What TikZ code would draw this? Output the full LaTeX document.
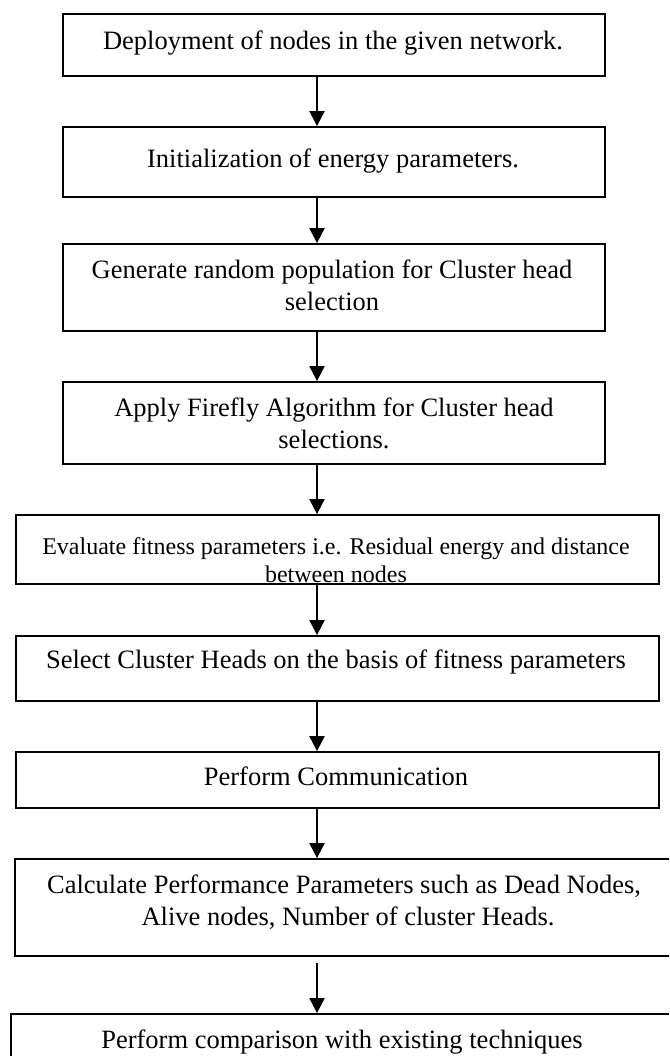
\documentclass[tikz,border=0pt]{standalone}
\usepackage{fontspec}
\setmainfont{Liberation Serif}
\usetikzlibrary{arrows.meta}

\begin{document}
\begin{tikzpicture}[x=1pt, y=-1pt,
	stepbox/.style={draw, line width=1.8pt, inner sep=0pt},
	steptext/.style={inner sep=0pt, align=center, font=\fontsize{26.5}{32}\selectfont},
	smalltext/.style={inner sep=0pt, align=center, font=\fontsize{24}{28}\selectfont},
	flow/.style={-{Triangle[length=15pt,width=15pt]}, line width=2pt}]
		
		% Page
		\useasboundingbox (0,0) rectangle (669,1056);
		\clip (0,0) rectangle (669,1056);
		
		% Boxes
		\node[stepbox, minimum width=542pt, minimum height=62pt] (deploy) at (334,45) {};
		\node[stepbox, minimum width=542pt, minimum height=70pt] (init) at (334,162) {};
		\node[stepbox, minimum width=542pt, minimum height=87pt] (popul) at (334,287.5) {};
		\node[stepbox, minimum width=542pt, minimum height=82pt] (firefly) at (334,423) {};
		\node[stepbox, minimum width=643pt, minimum height=69pt] (fitness) at (337.5,549.5) {};
		\node[stepbox, minimum width=643pt, minimum height=65pt] (select) at (337.5,668.5) {};
		\node[stepbox, minimum width=643pt, minimum height=56pt] (comm) at (337.5,780) {};
		\node[stepbox, minimum width=690pt, minimum height=97pt] (perf) at (360,907.5) {};
		\node[stepbox, minimum width=694pt, minimum height=86pt] (compare) at (358,1057) {};
		
		% Arrows
		\coordinate (ax) at (317,0);
		\draw[flow] (deploy.south -| ax) -- (init.north -| ax);
		\draw[flow] (init.south -| ax) -- (popul.north -| ax);
		\draw[flow] (popul.south -| ax) -- (firefly.north -| ax);
		\draw[flow] (firefly.south -| ax) -- (fitness.north -| ax);
		\draw[flow] (fitness.south -| ax) -- (select.north -| ax);
		\draw[flow] (select.south -| ax) -- (comm.north -| ax);
		\draw[flow] (comm.south -| ax) -- (perf.north -| ax);
		\draw[flow, shorten <=6pt] (perf.south -| ax) -- (compare.north -| ax);
		
		% Labels
		\node[steptext] (deploy-t) at (333,43) {Deployment of nodes in the given network.};
		\node[steptext] (init-t) at (333,161) {Initialization of energy parameters.};
		\node[steptext] (popul-t) at (332,285) {Generate random population for Cluster head\\selection};
		\node[steptext] (firefly-t) at (334,423.5) {Apply Firefly Algorithm for Cluster head\\selections.};
		\node[smalltext] (fitness-t) at (336,560) {Evaluate fitness parameters i.e. Residual energy and distance\\between nodes};
		\node[steptext] (select-t) at (336,662) {Select Cluster Heads on the basis of fitness parameters};
		\node[steptext] (comm-t) at (336,776) {Perform Communication};
		\node[steptext] (perf-t) at (344,902) {Calculate Performance Parameters such as Dead Nodes,\\\hspace*{8pt}Alive nodes, Number of cluster Heads.};
		\node[steptext] (compare-t) at (342,1042) {Perform comparison with existing techniques};
		
	\end{tikzpicture}
\end{document}
